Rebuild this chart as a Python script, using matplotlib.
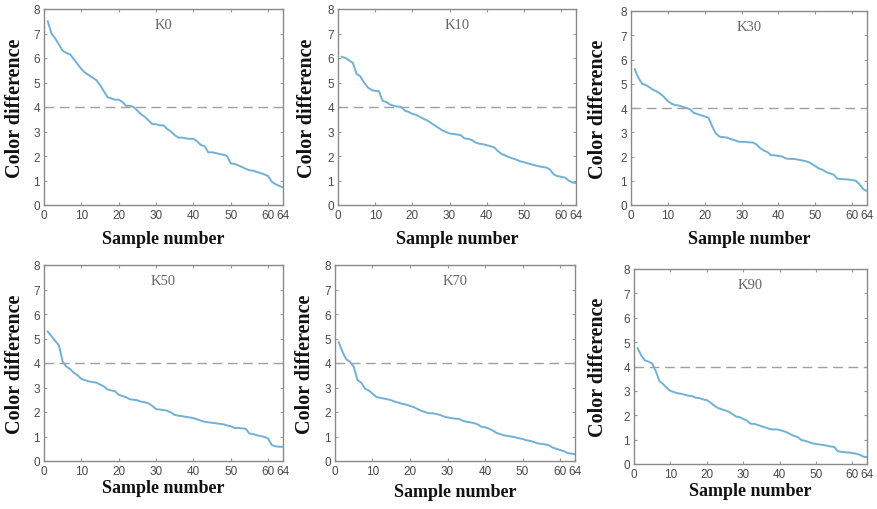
import matplotlib
matplotlib.use("Agg")
import matplotlib.pyplot as plt
import numpy as np

sample_x = list(range(1, 65))
panel_titles = ["K0", "K10", "K30", "K50", "K70", "K90"]

k0 = [7.5, 7.0, 6.8, 6.55, 6.3, 6.2, 6.15, 5.95, 5.75, 5.55, 5.4, 5.3, 5.2, 5.1, 4.9, 4.65,
      4.4, 4.35, 4.3, 4.3, 4.2, 4.05, 4.05, 4.0, 3.85, 3.7, 3.6, 3.45, 3.3, 3.3, 3.25, 3.25,
      3.1, 3.0, 2.85, 2.75, 2.75, 2.72, 2.7, 2.7, 2.6, 2.45, 2.4, 2.15, 2.15, 2.12, 2.08, 2.05,
      2.0, 1.7, 1.68, 1.62, 1.55, 1.48, 1.42, 1.4, 1.35, 1.3, 1.25, 1.18, 0.95, 0.85, 0.78, 0.72]
k10 = [6.05, 6.0, 5.9, 5.8, 5.35, 5.25, 5.0, 4.8, 4.7, 4.65, 4.65, 4.25, 4.2, 4.1, 4.05, 4.02,
       4.0, 3.85, 3.8, 3.72, 3.68, 3.6, 3.52, 3.45, 3.35, 3.25, 3.15, 3.05, 2.98, 2.92, 2.9, 2.88,
       2.85, 2.72, 2.7, 2.65, 2.55, 2.5, 2.48, 2.44, 2.4, 2.35, 2.2, 2.08, 2.02, 1.95, 1.9, 1.85,
       1.78, 1.75, 1.7, 1.66, 1.62, 1.58, 1.55, 1.53, 1.45, 1.25, 1.18, 1.15, 1.12, 1.0, 0.92, 0.9]
k30 = [5.6, 5.25, 5.0, 4.95, 4.85, 4.75, 4.68, 4.58, 4.45, 4.28, 4.18, 4.12, 4.1, 4.05, 4.0, 3.95,
       3.8, 3.75, 3.7, 3.65, 3.6, 3.25, 2.95, 2.82, 2.8, 2.78, 2.72, 2.68, 2.62, 2.6, 2.6, 2.58,
       2.58, 2.5, 2.35, 2.25, 2.18, 2.05, 2.05, 2.02, 2.0, 1.92, 1.9, 1.9, 1.88, 1.85, 1.82, 1.78,
       1.7, 1.6, 1.5, 1.45, 1.35, 1.3, 1.25, 1.08, 1.07, 1.06, 1.05, 1.03, 1.0, 0.85, 0.65, 0.58]
k50 = [5.28, 5.1, 4.9, 4.72, 4.05, 3.85, 3.75, 3.6, 3.5, 3.35, 3.3, 3.25, 3.22, 3.2, 3.12, 3.05,
       2.92, 2.88, 2.85, 2.7, 2.65, 2.6, 2.52, 2.5, 2.48, 2.42, 2.4, 2.35, 2.25, 2.12, 2.1, 2.08,
       2.05, 1.98, 1.88, 1.85, 1.83, 1.8, 1.78, 1.75, 1.7, 1.65, 1.6, 1.58, 1.56, 1.54, 1.52, 1.5,
       1.45, 1.42, 1.35, 1.35, 1.33, 1.32, 1.12, 1.1, 1.05, 1.02, 0.98, 0.92, 0.65, 0.6, 0.58, 0.58]
k70 = [4.85, 4.45, 4.15, 4.05, 3.85, 3.3, 3.2, 2.95, 2.88, 2.75, 2.62, 2.58, 2.55, 2.52, 2.48, 2.42,
       2.38, 2.33, 2.3, 2.25, 2.2, 2.12, 2.05, 2.0, 1.95, 1.95, 1.92, 1.88, 1.82, 1.78, 1.75, 1.73,
       1.72, 1.65, 1.6, 1.58, 1.55, 1.5, 1.4, 1.38, 1.32, 1.25, 1.15, 1.1, 1.05, 1.02, 1.0, 0.97,
       0.93, 0.9, 0.85, 0.82, 0.78, 0.72, 0.7, 0.68, 0.65, 0.55, 0.5, 0.45, 0.4, 0.33, 0.3, 0.28]
k90 = [4.75, 4.45, 4.25, 4.2, 4.12, 3.8, 3.4, 3.28, 3.12, 3.0, 2.95, 2.9, 2.88, 2.84, 2.8, 2.78,
       2.72, 2.7, 2.65, 2.62, 2.52, 2.4, 2.3, 2.25, 2.2, 2.15, 2.05, 1.95, 1.92, 1.85, 1.78, 1.65,
       1.65, 1.6, 1.55, 1.5, 1.45, 1.42, 1.42, 1.4, 1.35, 1.3, 1.22, 1.15, 1.1, 0.98, 0.95, 0.9,
       0.85, 0.82, 0.8, 0.78, 0.75, 0.72, 0.7, 0.52, 0.5, 0.48, 0.47, 0.45, 0.42, 0.38, 0.3, 0.28]
series = [k0, k10, k30, k50, k70, k90]

threshold = 4
x_ticks = [0, 10, 20, 30, 40, 50, 60, 64]
y_ticks = [0, 1, 2, 3, 4, 5, 6, 7, 8]

W, H = 878, 510
# (left, right, top, bottom) pixel boxes, label offsets (ylabel dx, xlabel dy)
boxes = [(44, 283, 10, 206), (338, 576, 10, 206), (631, 867, 12, 206),
         (44, 283, 266, 462), (335, 575, 266, 462), (634, 867, 270, 465)]
ylab_dx = [29, 31, 33, 29, 30, 36]
xlab_dy = [34, 33, 33, 27, 31, 27]

fig = plt.figure(figsize=(W / 100, H / 100), dpi=100)
line_color = "#72b1d6"
spine_color = "#8a8a8a"
tick_color = "#4a4a4a"

for i, (l, r, t, b) in enumerate(boxes):
    ax = fig.add_axes([l / W, (H - b) / H, (r - l) / W, (b - t) / H])
    ax.plot(sample_x, series[i], color=line_color, lw=1.4, solid_joinstyle="round")
    ax.axhline(threshold, color="#a0a0a0", lw=1.0, dashes=(7, 4))
    ax.set_xlim(0, 64)
    ax.set_ylim(0, 8)
    ax.set_xticks(x_ticks)
    ax.set_yticks(y_ticks)
    ax.tick_params(direction="in", length=2, width=0.8, color="#999999",
                   top=True, right=True, labelsize=8.5, labelcolor=tick_color, pad=3)
    for lab in ax.get_xticklabels() + ax.get_yticklabels():
        lab.set_family("Liberation Sans")
    for s in ax.spines.values():
        s.set_color(spine_color)
        s.set_linewidth(1.0)
    ax.text(0.5, 0.955, panel_titles[i], transform=ax.transAxes, ha="center", va="top",
            family="Liberation Serif", fontsize=10.5, color="#666666")
    ax.set_ylabel("Color difference", family="Liberation Serif", fontweight="bold",
                  fontsize=14.5, color="#111111")
    ax.set_xlabel("Sample number", family="Liberation Serif", fontweight="bold",
                  fontsize=13, color="#111111")
    ax.yaxis.set_label_coords(-ylab_dx[i] / (r - l), 0.5)
    ax.yaxis.label.set_va("center")
    ax.xaxis.set_label_coords(0.5, -xlab_dy[i] / (b - t))
    ax.xaxis.label.set_va("center")

fig.savefig("out.png", dpi=100, facecolor="white")
